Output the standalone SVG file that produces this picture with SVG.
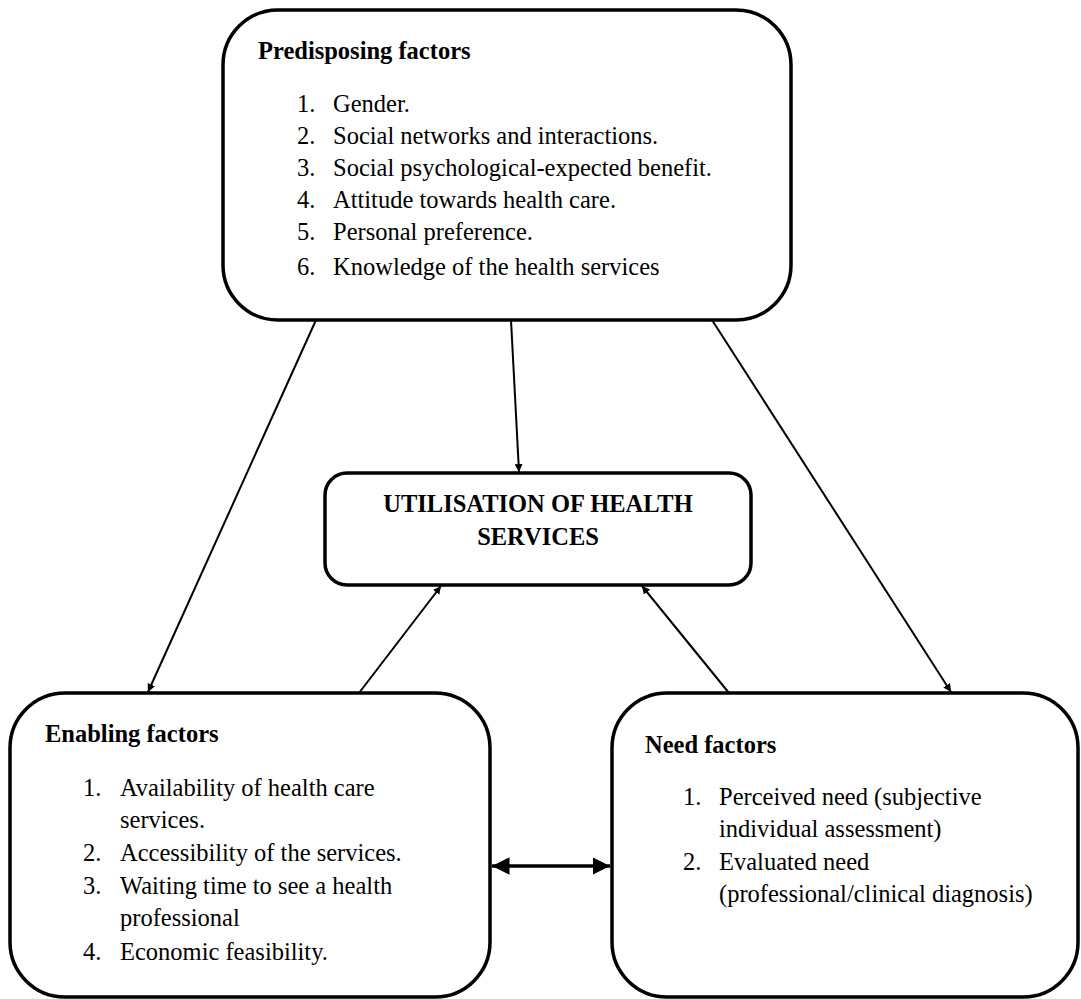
<svg xmlns="http://www.w3.org/2000/svg" width="1081" height="999" viewBox="0 0 1081 999">
<defs>
<style>
.box{fill:#fff;stroke:#000;stroke-width:3.5}
.t{font-family:"Liberation Serif","Times New Roman",serif;font-size:24.5px;fill:#000}
.b{font-weight:bold}
.c{text-anchor:middle}
.ln{stroke:#000;stroke-width:2;fill:none}
.ln2{stroke:#000;stroke-width:3.5;fill:none}
</style>
<marker id="ah" viewBox="0 0 10 10" refX="10" refY="5" markerWidth="8" markerHeight="8" markerUnits="userSpaceOnUse" orient="auto-start-reverse">
<path d="M0,0 L10,5 L0,10 z" fill="#000"/>
</marker>
<marker id="ah2" viewBox="0 0 10 10" refX="10" refY="5" markerWidth="5" markerHeight="5" orient="auto-start-reverse">
<path d="M0,0 L10,5 L0,10 z" fill="#000"/>
</marker>
</defs>
<rect width="1081" height="999" fill="#fff"/>
<g id="connectors">
<line class="ln" x1="316" y1="320" x2="148" y2="692" marker-end="url(#ah)"/>
<line class="ln" x1="511" y1="320" x2="519" y2="472" marker-end="url(#ah)"/>
<line class="ln" x1="712" y1="320" x2="951" y2="692" marker-end="url(#ah)"/>
<line class="ln" x1="359" y1="693" x2="441" y2="586" marker-end="url(#ah)"/>
<line class="ln" x1="729" y1="693" x2="642" y2="586" marker-end="url(#ah)"/>
<line class="ln2" x1="492" y1="866" x2="610" y2="866" marker-start="url(#ah2)" marker-end="url(#ah2)"/>
</g>
<g id="predisposing">
<rect class="box" x="223" y="10" width="568" height="310" rx="55"/>
<text class="t b" x="258" y="59">Predisposing factors</text>
<text class="t" x="297" y="112">1.</text><text class="t" x="333" y="112">Gender.</text>
<text class="t" x="297" y="144">2.</text><text class="t" x="333" y="144">Social networks and interactions.</text>
<text class="t" x="297" y="176">3.</text><text class="t" x="333" y="176">Social psychological-expected benefit.</text>
<text class="t" x="297" y="208">4.</text><text class="t" x="333" y="208">Attitude towards health care.</text>
<text class="t" x="297" y="240">5.</text><text class="t" x="333" y="240">Personal preference.</text>
<text class="t" x="297" y="275">6.</text><text class="t" x="333" y="275">Knowledge of the health services</text>
</g>
<g id="utilisation">
<rect class="box" x="325" y="473" width="426" height="112" rx="22"/>
<text class="t b c" x="538" y="512">UTILISATION OF HEALTH</text>
<text class="t b c" x="538" y="545">SERVICES</text>
</g>
<g id="enabling">
<rect class="box" x="10" y="693" width="480" height="304" rx="55"/>
<text class="t b" x="45" y="742">Enabling factors</text>
<text class="t" x="83" y="796">1.</text><text class="t" x="120" y="796">Availability of health care</text>
<text class="t" x="120" y="828">services.</text>
<text class="t" x="83" y="861">2.</text><text class="t" x="120" y="861">Accessibility of the services.</text>
<text class="t" x="83" y="894">3.</text><text class="t" x="120" y="894">Waiting time to see a health</text>
<text class="t" x="120" y="926">professional</text>
<text class="t" x="83" y="960">4.</text><text class="t" x="120" y="960">Economic feasibility.</text>
</g>
<g id="need">
<rect class="box" x="612" y="693" width="466" height="304" rx="55"/>
<text class="t b" x="645" y="753">Need factors</text>
<text class="t" x="683" y="805">1.</text><text class="t" x="719" y="805">Perceived need (subjective</text>
<text class="t" x="719" y="837">individual assessment)</text>
<text class="t" x="683" y="870">2.</text><text class="t" x="719" y="870">Evaluated need</text>
<text class="t" x="719" y="902">(professional/clinical diagnosis)</text>
</g>
</svg>
